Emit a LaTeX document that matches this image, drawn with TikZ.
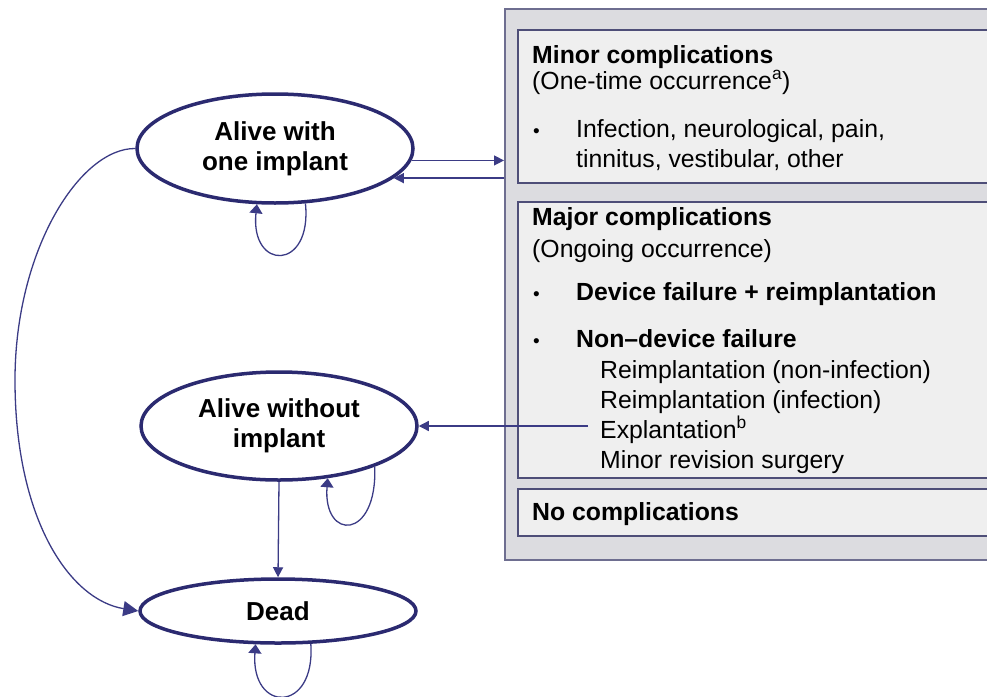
\documentclass[tikz,border=0pt]{standalone}
\usepackage{fontspec}
\setmainfont{Liberation Sans}
\usepackage{tikz}
\usetikzlibrary{arrows.meta,shapes.geometric}
\definecolor{navy}{HTML}{2B2A70}
\definecolor{linkblue}{HTML}{3B3B85}
\definecolor{panelgray}{HTML}{DCDCE0}
\definecolor{panelline}{HTML}{6E6E90}
\definecolor{boxgray}{HTML}{EFEFEF}
\definecolor{boxline}{HTML}{4E4E78}
\newcommand{\smallbul}{{\fontsize{19}{19}\selectfont\textbullet}}

\begin{document}
\begin{tikzpicture}[x=1pt,y=-1pt]
		% Define styles for states, boxes, texts and links
		\tikzset{state/.style={ellipse, draw=navy, line width=3.5pt, fill=white, minimum width=276pt, inner sep=0pt, align=center, font=\fontsize{26}{30}\selectfont\bfseries},
			panel/.style={rectangle, draw=panelline, line width=1.5pt, fill=panelgray, anchor=north west, minimum width=500pt, inner sep=0pt},
			group/.style={rectangle, draw=boxline, line width=1.5pt, fill=boxgray, anchor=north west, minimum width=480pt, inner sep=0pt},
			txt/.style={anchor=base west, inner sep=0pt, font=\fontsize{24.8}{29}\selectfont},
			txtb/.style={txt, font=\fontsize{24.8}{29}\selectfont\bfseries},
			link/.style={draw=linkblue, line width=1.3pt},
			tip/.style={-{Triangle[length=10pt,width=10pt]}},
			looptip/.style={-{Triangle[length=9pt,width=13pt]}},
			bigtip/.style={-{Triangle[length=15pt,width=15pt]}}}
		
		\useasboundingbox (0,0) rectangle (987,696);
		\clip (0,0) rectangle (987,696);
		
		% Draw the complication panel and its groups
		\node[panel, minimum height=551pt] (panel) at (504,8) {};
		\node[group, minimum height=153pt] (minor) at (517,29) {};
		\node[group, minimum height=276pt] (major) at (517,201) {};
		\node[group, minimum height=47pt] (nocomp) at (517,488) {};
		
		% Texts of the groups
		\node[txtb] (mintitle) at (532,63) {Minor complications};
		\node[txt] (minsub) at (532,89) {(One-time occurrence\textsuperscript{a})};
		\node[txt] (minbul) at (533,137) {\smallbul};
		\node[txt] (minitem1) at (576,137) {Infection, neurological, pain,};
		\node[txt] (minitem2) at (576,167) {tinnitus, vestibular, other};
		
		\node[txtb] (majtitle) at (532,225) {Major complications};
		\node[txt] (majsub) at (532,257) {(Ongoing occurrence)};
		\node[txt] (devbul) at (533,300) {\smallbul};
		\node[txtb] (devtxt) at (576,300) {Device failure + reimplantation};
		\node[txt] (nonbul) at (533,347) {\smallbul};
		\node[txtb] (nontxt) at (576,347) {Non–device failure};
		\node[txt] (reimp1) at (600,378) {Reimplantation (non-infection)};
		\node[txt] (reimp2) at (600,408) {Reimplantation (infection)};
		\node[txt] (expl) at (600,438) {Explantation\textsuperscript{b}};
		\node[txt] (minrev) at (600,468) {Minor revision surgery};
		
		\node[txtb] (notitle) at (532,520) {No complications};
		
		% Draw the health states
		\node[state, minimum height=109pt] (one) at (275,148.5) {Alive with\\one implant};
		\node[state, minimum height=108pt] (none) at (279,426) {Alive without\\implant};
		\node[state, minimum height=64pt] (dead) at (278,611) {Dead};
		
		% Links between states and complications
		\draw[link,tip] (one.-5) -- (one.-5 -| panel.west);
		\draw[link,tip] (one.-14 -| panel.west) -- (one.-14);
		\draw[link,tip] ([xshift=-12pt]expl.west |- none.east) -- (none.east);
		\draw[link,tip] (none.south) -- (dead.north);
		\draw[link,bigtip] (one.west) .. controls (80,148) and (15,250) .. (15,380)
			.. controls (15,520) and (70,600) .. (dead.west);
		
		% Self loops
		\draw[link,looptip] (one.-61) .. controls +(7,68) and +(-7,67) .. (one.-108);
		\draw[link,looptip] (none.-23) .. controls +(3,74) and +(-5,63) .. (none.-47);
		\draw[link,looptip] (dead.-45) .. controls +(5,70) and +(-5,69) .. (dead.-124);
	\end{tikzpicture}
\end{document}
